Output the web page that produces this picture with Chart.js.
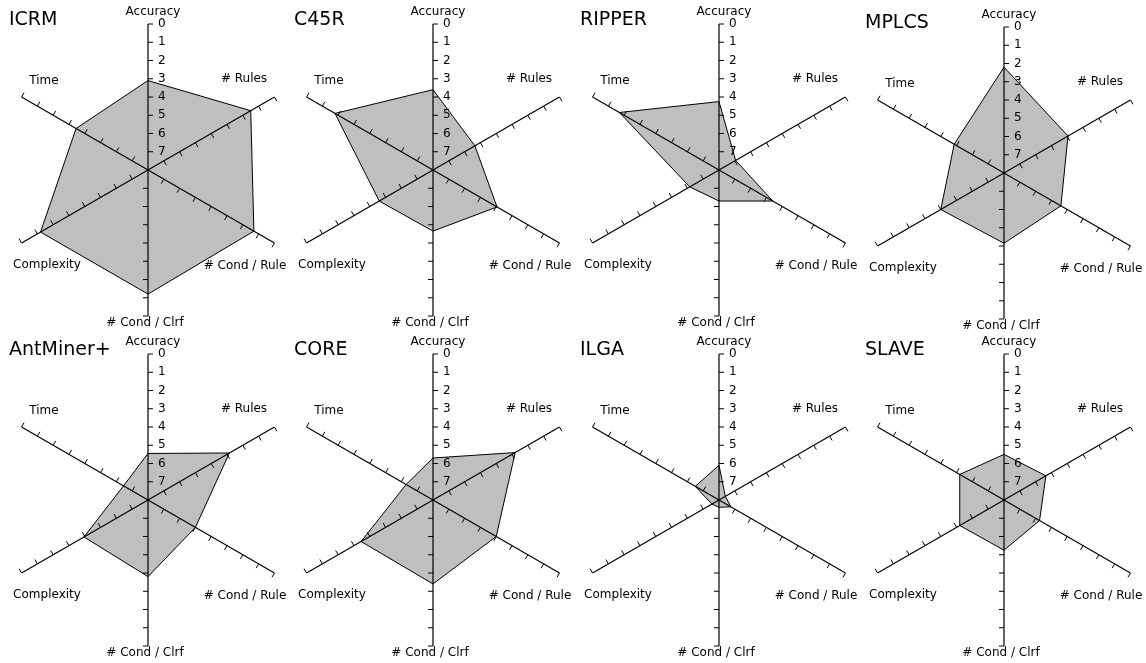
<!DOCTYPE html>
<html lang="en">
<head>
  <meta charset="UTF-8" />
  <title>Average ranks per algorithm</title>
  <script src="https://cdn.jsdelivr.net/npm/chart.js"></script>
  <style>
    html, body {
      margin: 0;
      padding: 0;
      background: #fff;
      overflow: hidden;
    }
    #grid {
      position: relative;
      width: 1146px;
      height: 663px;
      overflow: hidden;
    }
    #grid canvas {
      position: absolute;
    }
  </style>
</head>
<body>
  <div id="grid"></div>

  <script>
    // axes, clockwise from the top
    const axisNames = ['Accuracy', '# Rules', '# Cond / Rule', '# Cond / Clrf', 'Complexity', 'Time'];
    const tickValues = [0, 1, 2, 3, 4, 5, 6, 7];
    const algorithms = ['ICRM', 'C45R', 'RIPPER', 'MPLCS', 'AntMiner+', 'CORE', 'ILGA', 'SLAVE'];

    // average rank on each axis (0 = outer end, 8 = centre)
    const icrmRanks      = [3.1, 1.5, 1.3, 1.2, 1.2, 3.45];
    const c45rRanks      = [3.6, 5.35, 3.95, 4.65, 4.6, 1.8];
    const ripperRanks    = [4.25, 6.95, 4.6, 6.3, 6.15, 1.7];
    const mplcsRanks     = [2.2, 3.95, 4.4, 4.15, 4.0, 4.85];
    const antminerRanks  = [5.45, 2.85, 5.0, 3.8, 3.95, 6.45];
    const coreRanks      = [5.7, 2.8, 4.0, 3.4, 3.45, 6.3];
    const ilgaRanks      = [6.1, 7.6, 7.25, 7.6, 7.55, 6.5];
    const slaveRanks     = [5.5, 5.35, 5.75, 5.25, 5.2, 5.2];

    const allRanks = [icrmRanks, c45rRanks, ripperRanks, mplcsRanks,
                      antminerRanks, coreRanks, ilgaRanks, slaveRanks];

    // panel placement (canvas left/top) and axis label offsets from the centre
    const colLefts = [0, 285, 571, 856];
    const rowTops = [0, 330];
    const rowHeights = [330, 333];
    const labelOffsets = [[5, -158], [96, -91], [97, 96], [-3, 153], [-101, 95], [-104, -89]];
    const FONT = '"DejaVu Sans", Verdana, sans-serif';

    // tick marks, accuracy tick labels, axis names and the panel title
    const rankAxesPlugin = {
      id: 'rankAxes',
      afterDraw(chart, args, opts) {
        const ctx = chart.ctx;
        const r = chart.scales.r;
        ctx.save();
        ctx.strokeStyle = '#000';
        ctx.lineWidth = 1;
        axisNames.forEach((name, i) => {
          const a = r.getIndexAngle(i) - Math.PI / 2;
          const nx = -Math.sin(a), ny = Math.cos(a);
          tickValues.forEach(v => {
            const p = r.getPointPositionForValue(i, v);
            ctx.beginPath();
            ctx.moveTo(p.x, p.y);
            ctx.lineTo(p.x + nx * 5, p.y + ny * 5);
            ctx.stroke();
          });
        });

        ctx.fillStyle = '#000';
        ctx.font = '12px ' + FONT;
        ctx.textAlign = 'left';
        ctx.textBaseline = 'middle';
        tickValues.forEach(v => {
          const p = r.getPointPositionForValue(0, v);
          ctx.fillText(String(v), p.x + 10, p.y);
        });

        ctx.textAlign = 'center';
        axisNames.forEach((name, i) => {
          const [dx, dy] = labelOffsets[i];
          ctx.fillText(name, r.xCenter + dx, r.yCenter + dy);
        });

        ctx.font = '19px ' + FONT;
        ctx.textAlign = 'left';
        ctx.textBaseline = 'alphabetic';
        ctx.fillText(opts.title, 9, r.yCenter - 145);
        ctx.restore();
      }
    };

    const grid = document.getElementById('grid');

    algorithms.forEach((algo, n) => {
      const col = n % 4, row = Math.floor(n / 4);
      const h = rowHeights[row];
      const top = algo === 'MPLCS' ? 27 : 24;

      const canvas = document.createElement('canvas');
      canvas.width = 296;
      canvas.height = h;
      canvas.style.left = colLefts[col] + 'px';
      canvas.style.top = rowTops[row] + 'px';
      grid.appendChild(canvas);

      new Chart(canvas.getContext('2d'), {
        type: 'radar',
        data: {
          labels: axisNames,
          datasets: [{
            label: algo,
            data: allRanks[n],
            fill: 'start',
            backgroundColor: '#bfbfbf',
            borderColor: '#000',
            borderWidth: 1,
            pointRadius: 0,
            tension: 0
          }]
        },
        options: {
          responsive: false,
          animation: false,
          layout: {
            padding: { left: 0, right: 0, top: top, bottom: h - top - 292 }
          },
          scales: {
            r: {
              min: 0,
              max: 8,
              reverse: true,
              ticks: { display: false },
              grid: { display: false, z: 1 },
              angleLines: { display: true, color: '#000', lineWidth: 1.2 },
              pointLabels: { display: false }
            }
          },
          plugins: {
            legend: { display: false },
            tooltip: { enabled: false },
            rankAxes: { title: algo }
          }
        },
        plugins: [rankAxesPlugin]
      });
    });
  </script>
</body>
</html>
